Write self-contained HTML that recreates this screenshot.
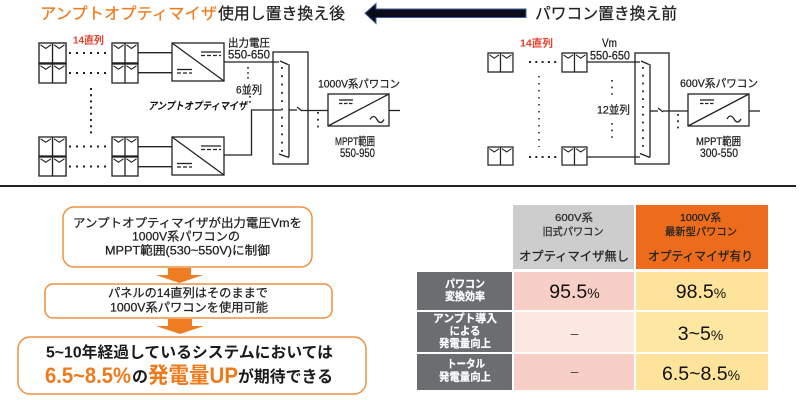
<!DOCTYPE html>
<html><head><meta charset="utf-8"><style>
html,body{margin:0;padding:0;background:#fff;width:800px;height:400px;overflow:hidden}
svg{display:block}
text{font-family:"Liberation Sans","Noto Sans CJK JP",sans-serif}
.lb{stroke:#222;stroke-width:0.25}
</style></head><body>
<svg width="800" height="400" viewBox="0 0 800 400" xmlns="http://www.w3.org/2000/svg">
<defs>
<g id="pp">
<rect x="0" y="0" width="26" height="19" fill="#fff" stroke="#222" stroke-width="1.3"/>
<line x1="13" y1="0" x2="13" y2="19" stroke="#222" stroke-width="1.3"/>
<polyline points="1.5,1.8 6.5,5.2 11.5,1.8" fill="none" stroke="#222" stroke-width="1.1"/>
<polyline points="14.5,1.8 19.5,5.2 24.5,1.8" fill="none" stroke="#222" stroke-width="1.1"/>
</g>
</defs>

<!-- Titles -->
<text x="40" y="19" font-size="16" fill="#ee7a1c" stroke="#ee7a1c" stroke-width="0.2" textLength="177" lengthAdjust="spacingAndGlyphs">アンプトオプティマイザ</text>
<text x="218" y="19" font-size="16" fill="#222" class="lb" textLength="127" lengthAdjust="spacingAndGlyphs">使用し置き換え後</text>
<text x="535" y="19" font-size="16" fill="#222" class="lb" textLength="142" lengthAdjust="spacingAndGlyphs">パワコン置き換え前</text>
<polygon points="365,13.3 376,3.5 376,9 526,9 526,17.5 376,17.5 376,23.5" fill="#0b0b1a" stroke="#3d5c99" stroke-width="1"/>

<!-- LEFT DIAGRAM -->
<text x="73" y="43.5" font-size="10.5" font-weight="bold" fill="#e8402c" textLength="31" lengthAdjust="spacingAndGlyphs">14直列</text>
<use href="#pp" transform="translate(39,43) scale(1.04,1.05)"/>
<use href="#pp" transform="translate(112,43) scale(1.0,1.05)"/>
<use href="#pp" transform="translate(39,64) scale(1.04,1.0)"/>
<use href="#pp" transform="translate(112,64) scale(1.0,1.0)"/>
<use href="#pp" transform="translate(39,137) scale(1.04,1.0)"/>
<use href="#pp" transform="translate(112,137) scale(1.0,1.0)"/>
<use href="#pp" transform="translate(39,157) scale(1.04,1.0)"/>
<use href="#pp" transform="translate(112,157) scale(1.0,1.0)"/>
<g stroke="#222" stroke-width="2" stroke-dasharray="2 5" fill="none">
<line x1="69" y1="53" x2="111" y2="53"/>
<line x1="69" y1="73" x2="111" y2="73"/>
<line x1="69" y1="146.5" x2="111" y2="146.5"/>
<line x1="69" y1="166.5" x2="111" y2="166.5"/>
<line x1="91" y1="88" x2="91" y2="137" stroke-dasharray="2 4.2"/>
<line x1="248" y1="67" x2="248" y2="79" stroke-width="1.6" stroke-dasharray="1.6 3.5"/>
<line x1="250" y1="96" x2="250" y2="104" stroke-width="1.6" stroke-dasharray="1.6 3.5"/>
<line x1="282" y1="67" x2="282" y2="156" stroke-width="1.8" stroke-dasharray="1.8 6.5"/>
<line x1="318" y1="112" x2="318" y2="129" stroke-width="1.8" stroke-dasharray="1.8 5"/>
</g>
<g stroke="#222" stroke-width="1.3" fill="none">
<line x1="138" y1="52.7" x2="172" y2="52.7"/>
<line x1="138" y1="72.7" x2="172" y2="72.7"/>
<line x1="138" y1="146.7" x2="172" y2="146.7"/>
<line x1="138" y1="166.7" x2="172" y2="166.7"/>
<rect x="172" y="43" width="52" height="38" fill="#fff"/>
<line x1="172" y1="43" x2="224" y2="81"/>
<line x1="201" y1="52" x2="221" y2="52"/>
<line x1="201" y1="55.5" x2="221" y2="55.5" stroke-dasharray="4 2"/>
<line x1="177" y1="69.5" x2="192" y2="69.5"/>
<line x1="177" y1="73" x2="192" y2="73" stroke-dasharray="4 2"/>
<rect x="172" y="137" width="52" height="38" fill="#fff"/>
<line x1="172" y1="137" x2="224" y2="175"/>
<line x1="201" y1="146" x2="221" y2="146"/>
<line x1="201" y1="149.5" x2="221" y2="149.5" stroke-dasharray="4 2"/>
<line x1="177" y1="163.5" x2="192" y2="163.5"/>
<line x1="177" y1="167" x2="192" y2="167" stroke-dasharray="4 2"/>
<polyline points="224,62 279,62"/>
<polyline points="224,155 251.5,155 251.5,110 281,110"/>
<rect x="273" y="52" width="35" height="112"/>
<line x1="280" y1="61" x2="288" y2="64.5"/>
<line x1="289" y1="64" x2="289" y2="157"/>
<line x1="279" y1="154" x2="289" y2="157.5"/>
<line x1="289" y1="110" x2="297" y2="110"/>
<line x1="297" y1="107" x2="302" y2="111"/>
<line x1="302" y1="110.5" x2="328" y2="110.5"/>
<rect x="328" y="94" width="61" height="32" fill="#fff"/>
<line x1="328" y1="126" x2="389" y2="94"/>
<line x1="339" y1="100" x2="353" y2="100"/>
<line x1="339" y1="103.5" x2="353" y2="103.5" stroke-dasharray="3.5 1.5"/>
<path d="M370,119.5 q3.5,-6 7,0 t7,0"/>
<line x1="389" y1="110.5" x2="400" y2="110.5"/>
</g>
<text x="228" y="46.5" font-size="11" fill="#222" class="lb" textLength="42" lengthAdjust="spacingAndGlyphs">出力電圧</text>
<text x="228" y="58.5" font-size="11.5" fill="#222" class="lb" textLength="42" lengthAdjust="spacingAndGlyphs">550-650</text>
<text x="236" y="93.5" font-size="11" fill="#222" class="lb" textLength="26" lengthAdjust="spacingAndGlyphs">6並列</text>
<text x="148" y="109.5" font-size="10.5" font-weight="bold" font-style="italic" fill="#111" textLength="99" lengthAdjust="spacingAndGlyphs">アンプトオプティマイザ</text>
<text x="318" y="87.5" font-size="11" fill="#222" class="lb" textLength="82" lengthAdjust="spacingAndGlyphs">1000V系パワコン</text>
<text x="335" y="145" font-size="11" fill="#222" class="lb" textLength="40" lengthAdjust="spacingAndGlyphs">MPPT範囲</text>
<text x="340" y="157" font-size="11.5" fill="#222" class="lb" textLength="35" lengthAdjust="spacingAndGlyphs">550-950</text>

<!-- RIGHT DIAGRAM -->
<text x="520" y="46.5" font-size="10.5" font-weight="bold" fill="#e8402c" textLength="33" lengthAdjust="spacingAndGlyphs">14直列</text>
<text x="602" y="47" font-size="11.5" fill="#222" class="lb" textLength="15" lengthAdjust="spacingAndGlyphs">Vm</text>
<text x="590" y="59.5" font-size="11.5" fill="#222" class="lb" textLength="40" lengthAdjust="spacingAndGlyphs">550-650</text>
<text x="597" y="113.5" font-size="11" fill="#222" class="lb" textLength="33" lengthAdjust="spacingAndGlyphs">12並列</text>
<text x="680" y="87" font-size="11" fill="#222" class="lb" textLength="78" lengthAdjust="spacingAndGlyphs">600V系パワコン</text>
<text x="696" y="145" font-size="11" fill="#222" class="lb" textLength="45" lengthAdjust="spacingAndGlyphs">MPPT範囲</text>
<text x="700" y="157" font-size="11.5" fill="#222" class="lb" textLength="38" lengthAdjust="spacingAndGlyphs">300-550</text>
<use href="#pp" transform="translate(488,53) scale(0.96,1.0)"/>
<use href="#pp" transform="translate(562,53) scale(0.96,1.0)"/>
<use href="#pp" transform="translate(488,147) scale(0.96,0.95)"/>
<use href="#pp" transform="translate(562,147) scale(0.96,0.95)"/>
<g stroke="#222" fill="none">
<line x1="529" y1="62" x2="559" y2="62" stroke-width="2" stroke-dasharray="2 4.3"/>
<line x1="529" y1="157" x2="559" y2="157" stroke-width="2" stroke-dasharray="2 4.3"/>
<line x1="539" y1="76" x2="539" y2="147" stroke-width="1.5" stroke-dasharray="1.5 5.5"/>
<line x1="612" y1="80" x2="612" y2="99" stroke-width="1.6" stroke-dasharray="1.6 5"/>
<line x1="612" y1="123" x2="612" y2="142" stroke-width="1.6" stroke-dasharray="1.6 5"/>
<line x1="643" y1="67" x2="643" y2="150" stroke-width="1.8" stroke-dasharray="1.8 6"/>
<line x1="678" y1="114" x2="678" y2="129" stroke-width="1.8" stroke-dasharray="1.8 4.5"/>
</g>
<g stroke="#222" stroke-width="1.3" fill="none">
<line x1="587" y1="62" x2="640" y2="62"/>
<line x1="587" y1="157" x2="640" y2="157"/>
<rect x="635" y="53" width="34" height="111"/>
<line x1="641" y1="61" x2="649" y2="64.5"/>
<line x1="650" y1="64" x2="650" y2="157"/>
<line x1="640" y1="153.5" x2="650" y2="157.5"/>
<line x1="650" y1="111" x2="658" y2="111"/>
<line x1="658" y1="108" x2="663" y2="112"/>
<line x1="663" y1="111" x2="688" y2="111"/>
<rect x="688" y="94" width="61" height="32" fill="#fff"/>
<line x1="688" y1="126" x2="749" y2="94"/>
<line x1="700" y1="100" x2="714" y2="100"/>
<line x1="700" y1="103.5" x2="714" y2="103.5" stroke-dasharray="3.5 1.5"/>
<path d="M727,119 q3.5,-6 7,0 t7,0"/>
<line x1="749" y1="111" x2="760" y2="111"/>
</g>

<!-- divider -->
<line x1="0" y1="186" x2="796" y2="186" stroke="#222" stroke-width="2"/>

<!-- BOTTOM LEFT -->
<rect x="63" y="207" width="249" height="60" rx="11" fill="#fff" stroke="#f0903f" stroke-width="1.5"/>
<text x="187.5" y="227" font-size="12" fill="#222" class="lb" text-anchor="middle" textLength="229" lengthAdjust="spacingAndGlyphs">アンプトオプティマイザが出力電圧Vmを</text>
<text x="186" y="240.5" font-size="12" fill="#222" class="lb" text-anchor="middle" textLength="108" lengthAdjust="spacingAndGlyphs">1000V系パワコンの</text>
<text x="187.5" y="254.5" font-size="12" fill="#222" class="lb" text-anchor="middle" textLength="165" lengthAdjust="spacingAndGlyphs">MPPT範囲(530~550V)に制御</text>
<polygon points="168,268 191,268 191,275 203,275 179.5,283 156,275 168,275" fill="#ee7d22"/>
<rect x="45" y="284" width="287" height="34" rx="8" fill="#fff" stroke="#f0903f" stroke-width="1.5"/>
<text x="188" y="297" font-size="12" fill="#222" class="lb" text-anchor="middle" textLength="160" lengthAdjust="spacingAndGlyphs">パネルの14直列はそのままで</text>
<text x="189" y="311.5" font-size="12" fill="#222" class="lb" text-anchor="middle" textLength="158" lengthAdjust="spacingAndGlyphs">1000V系パワコンを使用可能</text>
<polygon points="168,319 192,319 192,326 204,326 180,334 156,326 168,326" fill="#ee7d22"/>
<rect x="18" y="337" width="348" height="57" rx="12" fill="#fff" stroke="#f0903f" stroke-width="1.5"/>
<text x="46" y="357.5" font-size="15.5" font-weight="bold" fill="#1a1a1a" textLength="287" lengthAdjust="spacingAndGlyphs">5~10年経過しているシステムにおいては</text>
<text x="45" y="383" font-size="22" font-weight="bold" fill="#ee7a1c" textLength="86" lengthAdjust="spacingAndGlyphs">6.5~8.5%</text>
<text x="132" y="382" font-size="16" font-weight="bold" fill="#1a1a1a" textLength="16" lengthAdjust="spacingAndGlyphs">の</text>
<text x="148" y="383" font-size="22" font-weight="bold" fill="#ee7a1c" textLength="90" lengthAdjust="spacingAndGlyphs">発電量UP</text>
<text x="238" y="382" font-size="16" font-weight="bold" fill="#1a1a1a" textLength="95" lengthAdjust="spacingAndGlyphs">が期待できる</text>

<!-- TABLE -->
<rect x="513" y="205" width="121" height="64" fill="#cdcdcd"/>
<rect x="636" y="205" width="132" height="64" fill="#ec6c1b"/>
<text x="574" y="221" font-size="10.5" fill="#333" class="lb" text-anchor="middle" textLength="38" lengthAdjust="spacingAndGlyphs">600V系</text>
<text x="573" y="235" font-size="10.5" fill="#333" class="lb" text-anchor="middle" textLength="61" lengthAdjust="spacingAndGlyphs">旧式パワコン</text>
<text x="574" y="260.5" font-size="12.5" fill="#222" class="lb" text-anchor="middle" textLength="110" lengthAdjust="spacingAndGlyphs">オプティマイザ無し</text>
<text x="700.5" y="221" font-size="10.5" fill="#222" class="lb" text-anchor="middle" textLength="41" lengthAdjust="spacingAndGlyphs">1000V系</text>
<text x="701" y="235" font-size="10.5" fill="#222" class="lb" text-anchor="middle" textLength="72" lengthAdjust="spacingAndGlyphs">最新型パワコン</text>
<text x="700.5" y="260.5" font-size="12.5" fill="#222" class="lb" text-anchor="middle" textLength="105" lengthAdjust="spacingAndGlyphs">オプティマイザ有り</text>

<rect x="417" y="272" width="95" height="38" fill="#6b6e71"/>
<rect x="417" y="312" width="95" height="40" fill="#6b6e71"/>
<rect x="417" y="354" width="95" height="36" fill="#6b6e71"/>
<rect x="514" y="272" width="120" height="38" fill="#f8cfc6"/>
<rect x="514" y="312" width="120" height="40" fill="#fce7e3"/>
<rect x="514" y="354" width="120" height="36" fill="#f8cfc6"/>
<rect x="636" y="272" width="132" height="38" fill="#fee39b"/>
<rect x="636" y="312" width="132" height="40" fill="#fee6a3"/>
<rect x="636" y="354" width="132" height="36" fill="#fee39b"/>

<g fill="#fff" stroke="#fff" stroke-width="0.2" font-weight="bold" font-size="11" text-anchor="middle">
<text x="465" y="287.5" textLength="40" lengthAdjust="spacingAndGlyphs">パワコン</text>
<text x="465" y="300" textLength="40" lengthAdjust="spacingAndGlyphs">変換効率</text>
<text x="465" y="322" textLength="64" lengthAdjust="spacingAndGlyphs">アンプト導入</text>
<text x="465" y="334.5" textLength="31" lengthAdjust="spacingAndGlyphs">による</text>
<text x="465" y="347" textLength="52" lengthAdjust="spacingAndGlyphs">発電量向上</text>
<text x="466" y="367.5" textLength="38" lengthAdjust="spacingAndGlyphs">トータル</text>
<text x="465" y="380.5" textLength="52" lengthAdjust="spacingAndGlyphs">発電量向上</text>
</g>

<g fill="#111" text-anchor="middle">
<text x="574.5" y="298" font-size="19.5">95.5<tspan font-size="14">%</tspan></text>
<text x="701" y="298" font-size="19.5">98.5<tspan font-size="14">%</tspan></text>
<text x="574.5" y="338" font-size="14" fill="#444">–</text>
<text x="700.5" y="340" font-size="19.5">3~5<tspan font-size="14">%</tspan></text>
<text x="574.5" y="376" font-size="14" fill="#444">–</text>
<text x="701" y="380" font-size="19.5">6.5~8.5<tspan font-size="14">%</tspan></text>
</g>
</svg>
</body></html>
